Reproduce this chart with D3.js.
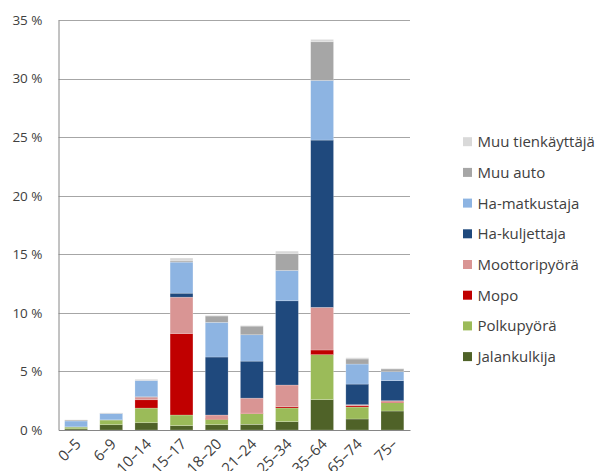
<html>
<script src="https://d3js.org/d3.v7.min.js"></script>
<style>
  body { margin: 0; background: #fff; }
  text { font-family: "Open Sans", "Liberation Sans", sans-serif; fill: #404040; }
</style>
<body onload="init()">
<svg width="598" height="471"></svg>
<script>
// age groups
var categories = ["0–5", "6–9", "10–14", "15–17", "18–20", "21–24", "25–34", "35–64", "65–74", "75–"];

// share of casualties (%) by road user type
var jalankulkija    = [0.10, 0.45, 0.62, 0.37, 0.45, 0.48, 0.71, 2.59, 0.94, 1.62];
var polkupyora      = [0.15, 0.40, 1.25, 0.91, 0.46, 0.91, 1.17, 3.84, 1.02, 0.71];
var mopo            = [0.00, 0.00, 0.71, 6.96, 0.09, 0.05, 0.11, 0.40, 0.11, 0.06];
var moottoripyora   = [0.00, 0.00, 0.23, 3.10, 0.28, 1.28, 1.85, 3.64, 0.09, 0.11];
var haKuljettaja    = [0.02, 0.02, 0.05, 0.34, 4.95, 3.16, 7.19, 14.28, 1.76, 1.71];
var haMatkustaja    = [0.50, 0.54, 1.37, 2.65, 2.96, 2.25, 2.59, 5.09, 1.71, 0.77];
var muuAuto         = [0.08, 0.03, 0.02, 0.10, 0.54, 0.74, 1.45, 3.30, 0.43, 0.23];
var muuTienkayttaja = [0.02, 0.02, 0.08, 0.25, 0.06, 0.05, 0.20, 0.20, 0.11, 0.05];

var seriesNames = ["Jalankulkija", "Polkupyörä", "Mopo", "Moottoripyörä",
                   "Ha-kuljettaja", "Ha-matkustaja", "Muu auto", "Muu tienkäyttäjä"];
var seriesValues = [jalankulkija, polkupyora, mopo, moottoripyora,
                    haKuljettaja, haMatkustaja, muuAuto, muuTienkayttaja];
var colors = ["#4F6228", "#9BBB59", "#C00000", "#D99594",
              "#1F497D", "#8DB4E2", "#A6A6A6", "#D9D9D9"];

var yTicks = [0, 5, 10, 15, 20, 25, 30, 35];

function init() {
  var svg = d3.select("svg");

  var left = 58.5, right = 410, top = 20, bottom = 430;

  var x = d3.scaleBand().domain(categories).range([left, right])
    .paddingInner(0.35).paddingOuter(0.175);
  var y = d3.scaleLinear().domain([0, 35]).range([bottom, top]);

  // table for the stack
  var table = categories.map(function(c, i) {
    var row = {cat: c};
    seriesNames.forEach(function(s, j) { row[s] = seriesValues[j][i]; });
    return row;
  });
  var stacked = d3.stack().keys(seriesNames)(table);

  // gridlines
  svg.append("g")
    .selectAll("line")
    .data(yTicks.filter(function(d) { return d > 0; }))
    .enter().append("line")
      .attr("x1", left).attr("x2", right)
      .attr("y1", function(d) { return Math.round(y(d)) + 0.5; })
      .attr("y2", function(d) { return Math.round(y(d)) + 0.5; })
      .attr("stroke", "#a6a6a6").attr("stroke-width", 1);

  // bars
  svg.append("g")
    .selectAll("g")
    .data(stacked)
    .enter().append("g")
      .attr("fill", function(d, i) { return colors[i]; })
    .selectAll("rect")
    .data(function(d) { return d; })
    .enter().append("rect")
      .attr("x", function(d) { return x(d.data.cat); })
      .attr("width", x.bandwidth())
      .attr("y", function(d) { return y(d[1]); })
      .attr("height", function(d) { return Math.max(0, y(d[0]) - y(d[1])); })
      .attr("stroke", "#fff").attr("stroke-opacity", 0.35).attr("stroke-width", 0.6);

  // y axis
  var yAxis = d3.axisLeft(y).tickValues(yTicks).tickSize(0).tickPadding(16)
    .tickFormat(function(d) { return d + " %"; });
  var gy = svg.append("g").attr("transform", "translate(" + left + ",0)").call(yAxis);
  gy.select(".domain").attr("stroke", "#868686");
  gy.selectAll("text").style("font-size", "13.5px").attr("fill", "#404040");

  // x axis
  var xAxis = d3.axisBottom(x).tickSize(0).tickPadding(0);
  var gx = svg.append("g").attr("transform", "translate(0," + bottom + ")").call(xAxis);
  gx.select(".domain").attr("stroke", "#868686");
  gx.selectAll("text")
    .style("font-size", "15px").attr("fill", "#404040")
    .attr("text-anchor", "end")
    .attr("dy", null).attr("y", null)
    .attr("transform", "translate(3,12) rotate(-45)")
    .attr("dominant-baseline", "middle");

  // legend
  var legendOrder = seriesNames.slice().reverse();
  var lg = svg.append("g").selectAll("g")
    .data(legendOrder)
    .enter().append("g")
      .attr("transform", function(d, i) { return "translate(463," + (141.7 + i * 30.7) + ")"; });
  lg.append("rect")
    .attr("x", 0).attr("y", -4.5).attr("width", 9).attr("height", 9)
    .attr("fill", function(d) { return colors[seriesNames.indexOf(d)]; });
  lg.append("text")
    .attr("x", 14.5).attr("dy", "0.36em")
    .style("font-size", "15px")
    .text(function(d) { return d; });
}
</script>
</body>
</html>
